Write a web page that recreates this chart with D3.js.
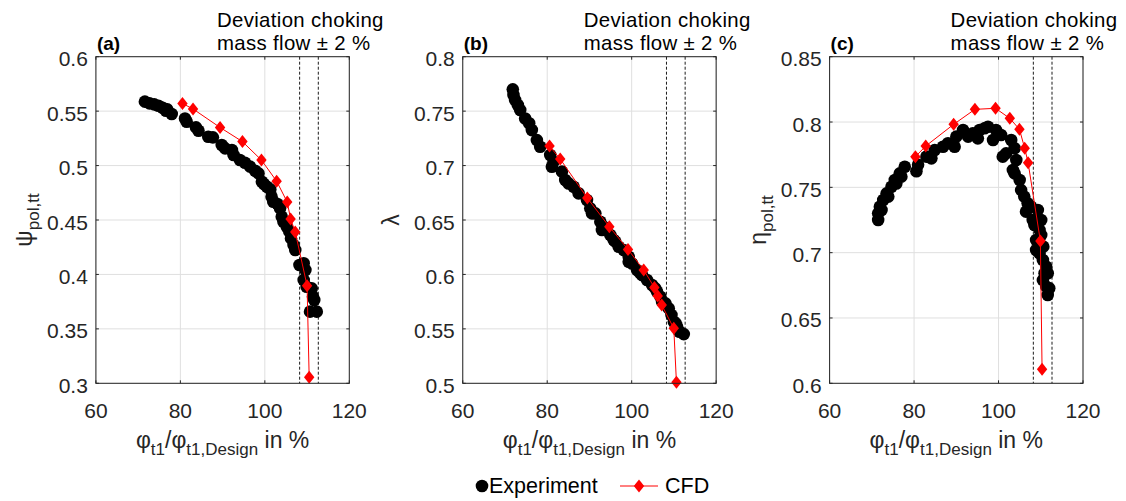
<!DOCTYPE html>
<html>
<head>
<meta charset="utf-8">
<script src="https://cdn.jsdelivr.net/npm/d3@7"></script>
<style>
  html, body { margin: 0; padding: 0; background: #fff; }
  svg { display: block; font-family: "Liberation Sans", Arial, sans-serif; }
</style>
</head>
<body>
<svg id="chart" width="1126" height="501"></svg>
<script>
// ---------- data ----------
const xTicks = [60, 80, 100, 120];
const xTickLabels = ["60", "80", "100", "120"];

const yTicksA = [0.3, 0.35, 0.4, 0.45, 0.5, 0.55, 0.6];
const yTickLabelsA = ["0.3", "0.35", "0.4", "0.45", "0.5", "0.55", "0.6"];
const yTicksB = [0.5, 0.55, 0.6, 0.65, 0.7, 0.75, 0.8];
const yTickLabelsB = ["0.5", "0.55", "0.6", "0.65", "0.7", "0.75", "0.8"];
const yTicksC = [0.6, 0.65, 0.7, 0.75, 0.8, 0.85];
const yTickLabelsC = ["0.6", "0.65", "0.7", "0.75", "0.8", "0.85"];

const chokeBounds = [108.24, 112.66];
const annotationLines = ["Deviation choking", "mass flow ± 2 %"];

// (a) psi_pol,tt
const expA_x = [71.6, 72.7, 73.8, 74.8, 75.8, 76.6, 76.9, 77.95, 81.1, 81.5, 83.7, 84.3, 86.6, 87.7, 89.8, 90.6, 92.2, 92.6, 94.1, 95.3, 96.5, 97.7, 98.5, 99.3, 99.8, 100.5, 101.3, 101.6, 102.0, 103.0, 103.6, 104.0, 104.4, 105.2, 105.8, 106.2, 106.8, 107.2, 108.2, 109.2, 109.6, 109.2, 109.9, 111.1, 111.4, 111.7, 110.7, 112.3];
const expA_y = [0.5587, 0.5571, 0.5562, 0.555, 0.5531, 0.5504, 0.5516, 0.5473, 0.5433, 0.5403, 0.5351, 0.532, 0.5265, 0.5259, 0.5189, 0.5158, 0.5143, 0.5097, 0.5051, 0.5026, 0.499, 0.4953, 0.4928, 0.4852, 0.4831, 0.4806, 0.4781, 0.4714, 0.4668, 0.4647, 0.4607, 0.453, 0.4484, 0.4438, 0.4393, 0.4331, 0.427, 0.4224, 0.4086, 0.4102, 0.404, 0.3949, 0.3887, 0.3872, 0.3795, 0.3765, 0.3658, 0.3658];
const cfdA_x = [80.5, 83.0, 89.4, 94.7, 99.2, 102.8, 105.3, 106.1, 107.2, 110.0, 110.5];
const cfdA_y = [0.557, 0.552, 0.535, 0.522, 0.505, 0.4856, 0.4665, 0.451, 0.439, 0.3897, 0.3055];

// (b) lambda
const expB_x = [71.85, 72.01, 72.4, 73.04, 73.6, 74.78, 75.73, 76.36, 77.55, 78.34, 80.71, 81.5, 83.48, 84.27, 86.25, 87.43, 89.41, 90.2, 91.39, 92.57, 93.36, 94.94, 95.74, 96.92, 98.11, 99.29, 100.08, 101.27, 102.46, 103.64, 104.83, 106.02, 106.81, 107.2, 108.78, 109.42, 109.97, 110.76, 111.31, 112.34, 81.1, 85.06, 90.6, 92.96, 96.13, 99.29, 102.06, 105.6, 108.0, 110.4];
const expB_y = [0.77, 0.7648, 0.7602, 0.7556, 0.751, 0.7433, 0.7388, 0.7326, 0.7234, 0.7173, 0.7097, 0.7035, 0.6944, 0.6867, 0.6806, 0.6745, 0.6683, 0.6607, 0.6561, 0.6484, 0.6438, 0.6362, 0.6316, 0.6255, 0.6224, 0.6163, 0.6101, 0.604, 0.5994, 0.5949, 0.5903, 0.5841, 0.5795, 0.575, 0.5688, 0.5627, 0.5566, 0.552, 0.5474, 0.5452, 0.6989, 0.6836, 0.6561, 0.6408, 0.6301, 0.6117, 0.601, 0.5872, 0.5734, 0.5551];
const cfdB_x = [80.55, 83.08, 89.49, 94.71, 99.13, 102.85, 105.38, 106.17, 107.12, 109.97, 110.6];
const cfdB_y = [0.7179, 0.706, 0.6702, 0.6438, 0.623, 0.604, 0.5881, 0.5801, 0.5719, 0.5505, 0.5009];

// (c) eta_pol,tt
const expC_x = [71.5, 71.5, 71.9, 72.7, 73.5, 74.65, 75.44, 76.62, 77.8, 80.56, 80.95, 82.92, 84.1, 84.9, 86.85, 88.03, 89.6, 90.0, 91.6, 92.8, 93.9, 95.1, 95.5, 96.7, 97.5, 98.7, 99.4, 100.6, 101.0, 101.8, 103.0, 103.8, 104.2, 103.4, 103.8, 105.0, 105.35, 106.1, 106.9, 106.5, 107.7, 108.1, 109.3, 110.1, 108.9, 109.7, 110.5, 111.3, 111.65, 111.3, 112.0, 111.65, 108.5, 109.7, 108.9, 110.1, 110.6, 110.9, 110.5, 72.3, 73.9, 75.8, 77.0];
const expC_y = [0.725, 0.7301, 0.7352, 0.7403, 0.7454, 0.7505, 0.7556, 0.7607, 0.7658, 0.7623, 0.7673, 0.7735, 0.7722, 0.7786, 0.7811, 0.7837, 0.7811, 0.7888, 0.7939, 0.7888, 0.7913, 0.7875, 0.7939, 0.7952, 0.7964, 0.7862, 0.7939, 0.7901, 0.7735, 0.776, 0.7862, 0.7799, 0.7709, 0.7633, 0.7607, 0.7556, 0.7479, 0.7429, 0.7378, 0.7314, 0.7352, 0.725, 0.7327, 0.725, 0.702, 0.6995, 0.6944, 0.6893, 0.6842, 0.674, 0.6727, 0.6676, 0.7212, 0.7173, 0.7097, 0.7135, 0.7046, 0.6842, 0.679, 0.7326, 0.7429, 0.753, 0.7582];
const cfdC_x = [80.32, 82.76, 89.37, 94.41, 99.29, 102.67, 104.95, 106.2, 107.0, 109.91, 110.31];
const cfdC_y = [0.7735, 0.7816, 0.7982, 0.8097, 0.8105, 0.8028, 0.7944, 0.7799, 0.7689, 0.7089, 0.6107];

const panelLetters = ["(a)", "(b)", "(c)"];
const legendLabels = ["Experiment", "CFD"];

// ---------- drawing ----------
const svg = d3.select("#chart");
svg.append("rect").attr("width", 1126).attr("height", 501).attr("fill", "#fff");

const panels = [
  { letter: panelLetters[0], yDomain: [0.3, 0.6], yTicks: yTicksA, yLabels: yTickLabelsA,
    ex: expA_x, ey: expA_y, cx: cfdA_x, cy: cfdA_y, ylab: ["ψ", "pol,tt"] },
  { letter: panelLetters[1], yDomain: [0.5, 0.8], yTicks: yTicksB, yLabels: yTickLabelsB,
    ex: expB_x, ey: expB_y, cx: cfdB_x, cy: cfdB_y, ylab: ["λ", ""] },
  { letter: panelLetters[2], yDomain: [0.6, 0.85], yTicks: yTicksC, yLabels: yTickLabelsC,
    ex: expC_x, ey: expC_y, cx: cfdC_x, cy: cfdC_y, ylab: ["η", "pol,tt"] }
];

const plotTop = 56.7, plotBottom = 383.3, pw = 253.4, step = 366.85, left0 = 95.9;
const axisColor = "#262626";
const red = "#ff0000";

function diamondPath(x, y, w, h) {
  return `M${x},${y - h}L${x + w},${y}L${x},${y + h}L${x - w},${y}Z`;
}

panels.forEach((p, i) => {
  const L = left0 + i * step, R = L + pw;
  const x = d3.scaleLinear().domain([60, 120]).range([L, R]);
  const y = d3.scaleLinear().domain(p.yDomain).range([plotBottom, plotTop]);
  const g = svg.append("g");

  // grid
  g.selectAll(".gx").data(xTicks).enter().append("line")
    .attr("x1", d => x(d)).attr("x2", d => x(d)).attr("y1", plotTop).attr("y2", plotBottom)
    .attr("stroke", "#dfdfdf").attr("stroke-width", 1);
  g.selectAll(".gy").data(p.yTicks).enter().append("line")
    .attr("y1", d => y(d)).attr("y2", d => y(d)).attr("x1", L).attr("x2", R)
    .attr("stroke", "#dfdfdf").attr("stroke-width", 1);

  // choke bounds
  g.selectAll(".ch").data(chokeBounds).enter().append("line")
    .attr("x1", d => x(d)).attr("x2", d => x(d)).attr("y1", plotTop).attr("y2", plotBottom)
    .attr("stroke", "#000").attr("stroke-width", 0.9).attr("stroke-dasharray", "3,2");

  // experiment
  const expData = p.ex.map((v, k) => [v, p.ey[k]]);
  g.selectAll(".exp").data(expData).enter().append("circle")
    .attr("cx", d => x(d[0])).attr("cy", d => y(d[1])).attr("r", 6.3).attr("fill", "#000");

  // CFD
  const cfdData = p.cx.map((v, k) => [v, p.cy[k]]);
  g.append("path").datum(cfdData)
    .attr("d", d3.line().x(d => x(d[0])).y(d => y(d[1])))
    .attr("fill", "none").attr("stroke", red).attr("stroke-width", 1);
  g.selectAll(".cfd").data(cfdData).enter().append("path")
    .attr("d", d => diamondPath(x(d[0]), y(d[1]), 5.2, 6.5)).attr("fill", red);

  // box
  g.append("rect").attr("x", L).attr("y", plotTop).attr("width", pw).attr("height", plotBottom - plotTop)
    .attr("fill", "none").attr("stroke", axisColor).attr("stroke-width", 1);

  // ticks (inward, both sides)
  xTicks.forEach(t => {
    g.append("line").attr("x1", x(t)).attr("x2", x(t)).attr("y1", plotBottom).attr("y2", plotBottom - 3).attr("stroke", axisColor);
    g.append("line").attr("x1", x(t)).attr("x2", x(t)).attr("y1", plotTop).attr("y2", plotTop + 3).attr("stroke", axisColor);
  });
  p.yTicks.forEach(t => {
    g.append("line").attr("y1", y(t)).attr("y2", y(t)).attr("x1", L).attr("x2", L + 3).attr("stroke", axisColor);
    g.append("line").attr("y1", y(t)).attr("y2", y(t)).attr("x1", R).attr("x2", R - 3).attr("stroke", axisColor);
  });

  // tick labels
  g.selectAll(".xl").data(xTicks).enter().append("text")
    .attr("x", d => x(d)).attr("y", plotBottom + 35).attr("text-anchor", "middle")
    .attr("font-size", 21).attr("fill", axisColor).text((d, k) => xTickLabels[k]);
  g.selectAll(".yl").data(p.yTicks).enter().append("text")
    .attr("x", L - 8).attr("y", d => y(d) + 9.5).attr("text-anchor", "end")
    .attr("font-size", 21).attr("fill", axisColor).text((d, k) => p.yLabels[k]);

  // x axis label
  const xl = g.append("text").attr("x", (L + R) / 2).attr("y", 448).attr("text-anchor", "middle")
    .attr("font-size", 23).attr("fill", axisColor);
  xl.append("tspan").text("φ");
  xl.append("tspan").attr("font-size", 17).attr("dy", 7).text("t1");
  xl.append("tspan").attr("dy", -7).text("/φ");
  xl.append("tspan").attr("font-size", 17).attr("dy", 7).text("t1,Design");
  xl.append("tspan").attr("dy", -7).text(" in %");

  // y axis label
  const yl = g.append("text").attr("transform", `translate(${L - 64},${(plotTop + plotBottom) / 2}) rotate(-90)`)
    .attr("text-anchor", "middle").attr("font-size", 23).attr("fill", axisColor);
  yl.append("tspan").text(p.ylab[0]);
  if (p.ylab[1]) yl.append("tspan").attr("font-size", 17).attr("dy", 7).text(p.ylab[1]);

  // panel letter
  g.append("text").attr("x", L + 1).attr("y", 50).attr("font-size", 19).attr("font-weight", "bold")
    .attr("fill", "#000").text(p.letter);

  // annotation
  g.append("text").attr("x", L + 121).attr("y", 26.8).attr("font-size", 20.4)
    .attr("letter-spacing", 0.35).attr("fill", "#000").text(annotationLines[0]);
  g.append("text").attr("x", L + 121).attr("y", 49.8).attr("font-size", 20.4)
    .attr("letter-spacing", 0.35).attr("fill", "#000").text(annotationLines[1]);
});

// legend
const lg = svg.append("g");
lg.append("circle").attr("cx", 482).attr("cy", 486).attr("r", 6.3).attr("fill", "#000");
lg.append("text").attr("x", 489).attr("y", 493).attr("font-size", 21.5).attr("fill", "#000").text(legendLabels[0]);
lg.append("line").attr("x1", 620).attr("x2", 658).attr("y1", 486).attr("y2", 486).attr("stroke", red).attr("stroke-width", 1);
lg.append("path").attr("d", diamondPath(639, 486, 5.2, 6.5)).attr("fill", red);
lg.append("text").attr("x", 665).attr("y", 493).attr("font-size", 21.5).attr("fill", "#000").text(legendLabels[1]);
</script>
</body>
</html>
